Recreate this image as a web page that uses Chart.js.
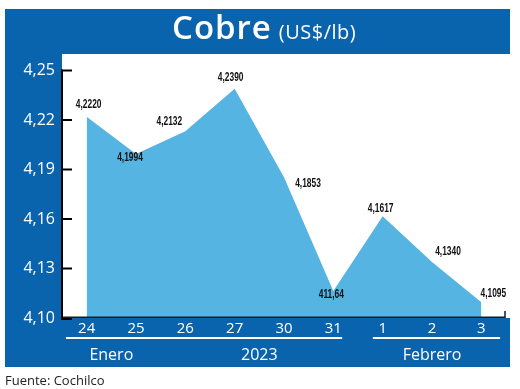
<!DOCTYPE html>
<html>
<head>
<meta charset="utf-8">
<script src="https://cdn.jsdelivr.net/npm/chart.js@4.4.0/dist/chart.umd.min.js"></script>
<style>
  html, body { margin:0; padding:0; background:#ffffff; width:520px; height:389px; overflow:hidden; }
  #wrap { position:relative; width:520px; height:389px; }
  #chart { position:absolute; left:0; top:0; }
  #title { position:absolute; left:172px; top:4px; color:#ffffff; white-space:nowrap; font-family:'Open Sans', sans-serif; }
  #title .main { font-size:33px; font-weight:600; letter-spacing:1px; }
  #title .unit { font-size:20px; font-weight:400; letter-spacing:0.5px; margin-left:7px; }
  #source { position:absolute; left:5px; top:371px; font-family:'Open Sans', sans-serif; font-size:13px; color:#222222; white-space:nowrap; }
</style>
</head>
<body>
<div id="wrap">
  <canvas id="chart" width="520" height="389"></canvas>
  <div id="title"><span class="main">Cobre</span><span class="unit">(US$/lb)</span></div>
  <div id="source">Fuente: Cochilco</div>
</div>
<script>
// ---- data ----
const categories = ['24', '25', '26', '27', '30', '31', '1', '2', '3'];
const copperPrice = [4.2220, 4.1994, 4.2132, 4.2390, 4.1853, 4.1164, 4.1617, 4.1340, 4.1095];
const priceLabels = ['4,2220', '4,1994', '4,2132', '4,2390', '4,1853', '411,64', '4,1617', '4,1340', '4,1095'];
const yTickValues = [4.10, 4.13, 4.16, 4.19, 4.22, 4.25];
const yTickLabels = ['4,10', '4,13', '4,16', '4,19', '4,22', '4,25'];
const groupLabels = ['Enero', '2023', 'Febrero'];
const groupSpans = [[0, 1], [3, 4], [6, 8]];

// ---- style ----
const BLUE = '#0a63ad';
const AREA = '#56b4e3';
const labelOffsets = [[2, -12], [-6, 4], [-16, -10], [-4, -11], [24, 6], [-2, 4], [-2, -8], [16, -10], [12, -9]];
const underlineSpans = [[-0.42, 5.18], [5.8, 8.38]];

const framePlugin = {
  id: 'frame',
  beforeDraw(chart) {
    const { ctx, chartArea: a } = chart;
    ctx.save();
    ctx.fillStyle = BLUE;
    ctx.fillRect(5, 9, 505, 45);
    ctx.fillRect(5, 54, a.left - 5, a.bottom - 54);
    ctx.fillRect(5, a.bottom, 505, 367 - a.bottom);
    ctx.restore();
  },
  afterDatasetsDraw(chart) {
    const { ctx, chartArea: a } = chart;
    const xs = chart.scales.x, ys = chart.scales.y;
    const cw = xs.getPixelForValue(1) - xs.getPixelForValue(0);
    ctx.save();
    // x axis line
    ctx.strokeStyle = '#1a1a1a';
    ctx.lineWidth = 1.5;
    ctx.beginPath();
    ctx.moveTo(a.left, a.bottom - 0.75);
    ctx.lineTo(a.right - 1, a.bottom - 0.75);
    ctx.lineTo(a.right - 1, a.bottom - 7);
    ctx.stroke();
    // y axis line and inward ticks
    ctx.strokeStyle = '#000000';
    ctx.lineWidth = 2;
    ctx.beginPath();
    ctx.moveTo(a.left, ys.getPixelForValue(yTickValues[yTickValues.length - 1]) - 1);
    ctx.lineTo(a.left, a.bottom + 1);
    ctx.stroke();
    yTickValues.forEach(v => {
      const y = ys.getPixelForValue(v) + (v === yTickValues[0] ? 1 : 0);
      ctx.beginPath();
      ctx.moveTo(a.left - 1, y);
      ctx.lineTo(a.left + 10, y);
      ctx.stroke();
    });
    // data labels (condensed)
    ctx.fillStyle = '#111111';
    ctx.font = "bold 12px 'Liberation Sans', sans-serif";
    ctx.textAlign = 'center';
    ctx.textBaseline = 'middle';
    const meta = chart.getDatasetMeta(0);
    meta.data.forEach((pt, i) => {
      const off = labelOffsets[i];
      ctx.save();
      ctx.translate(pt.x + off[0], pt.y + off[1]);
      ctx.scale(0.7, 1);
      ctx.fillText(priceLabels[i], 0, 0);
      ctx.restore();
    });
    // underlines
    ctx.strokeStyle = '#ffffff';
    ctx.lineWidth = 2;
    const p0 = xs.getPixelForValue(0);
    underlineSpans.forEach(s => {
      ctx.beginPath();
      ctx.moveTo(p0 + s[0] * cw, 338);
      ctx.lineTo(p0 + s[1] * cw, 338);
      ctx.stroke();
    });
    // group labels
    ctx.fillStyle = '#ffffff';
    ctx.font = "16px 'Open Sans', sans-serif";
    groupLabels.forEach((lab, i) => {
      const g = groupSpans[i];
      const cx = (xs.getPixelForValue(g[0]) + xs.getPixelForValue(g[1])) / 2;
      ctx.fillText(lab, cx, 355);
    });
    ctx.restore();
  }
};

new Chart(document.getElementById('chart'), {
  type: 'line',
  data: {
    labels: categories,
    datasets: [{
      data: copperPrice,
      fill: 'start',
      backgroundColor: AREA,
      borderWidth: 0,
      borderColor: AREA,
      pointRadius: 0,
      tension: 0
    }]
  },
  options: {
    responsive: false,
    animation: false,
    devicePixelRatio: 1,
    layout: { padding: { left: 0, right: 14, top: 54, bottom: 0 } },
    plugins: { legend: { display: false }, tooltip: { enabled: false }, title: { display: false } },
    scales: {
      x: {
        offset: true,
        grid: { display: false, drawTicks: false },
        border: { display: false },
        ticks: { color: '#ffffff', font: { family: 'Open Sans', size: 15 }, padding: 2, maxRotation: 0, autoSkip: false },
        afterFit(scale) { scale.height = 71; }
      },
      y: {
        min: 4.10,
        max: 4.26,
        grid: { display: false, drawTicks: false },
        border: { display: false },
        afterBuildTicks(scale) { scale.ticks = yTickValues.map(v => ({ value: v })); },
        ticks: {
          color: '#ffffff',
          font: { family: 'Open Sans', size: 16 },
          padding: 7,
          callback: (v, i) => yTickLabels[i]
        },
        afterFit(scale) { scale.width = 62; }
      }
    }
  },
  plugins: [framePlugin]
});
</script>
</body>
</html>
